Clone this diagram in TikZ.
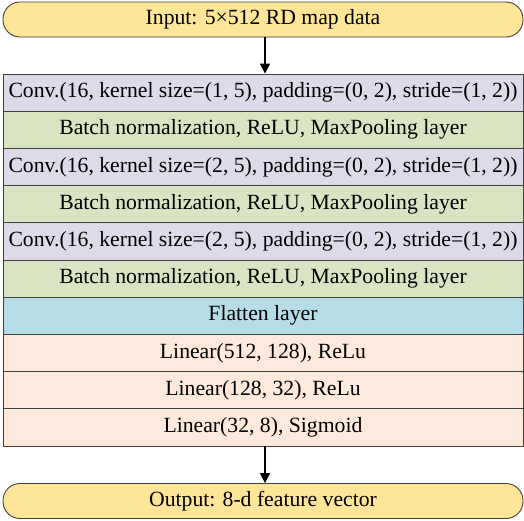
\documentclass[tikz,border=0pt]{standalone}
\usepackage{fontspec}
\setmainfont{Liberation Serif}
\usetikzlibrary{arrows.meta}
\definecolor{termfill}{HTML}{FFE597}
\definecolor{convfill}{HTML}{DFDAE9}
\definecolor{bnfill}{HTML}{D9E4C3}
\definecolor{flatfill}{HTML}{B6DDE7}
\definecolor{linfill}{HTML}{FDEADC}
\definecolor{edge}{HTML}{3F3F3F}
\tikzset{
  term/.style={draw=edge, line width=0.9pt, fill=termfill, rounded corners=17pt,
    minimum width=520pt, minimum height=35pt, inner sep=0pt, font=\fontsize{21.7}{24}\selectfont},
  layer/.style={draw=edge, line width=0.9pt, minimum width=520pt, minimum height=37.2pt,
    inner sep=0pt, font=\fontsize{21.7}{24}\selectfont},
  conv/.style={layer, fill=convfill},
  bn/.style={layer, fill=bnfill},
  flat/.style={layer, fill=flatfill},
  lin/.style={layer, fill=linfill},
  flow/.style={line width=1.6pt, -{Triangle[length=10pt,width=10pt]}}
}
\begin{document}
\begin{tikzpicture}[x=1pt,y=-1pt]
\useasboundingbox (0,0) rectangle (524,520);
\node[term] (in) at (263,19.5) {Input: 5×512 RD map data};
\node[conv] (c1) at (263,92.6) {Conv.(16, kernel size=(1, 5), padding=(0, 2), stride=(1, 2))};
\node[bn] (b1) at (263,129.8) {Batch normalization, ReLU, MaxPooling layer};
\node[conv] (c2) at (263,167.0) {Conv.(16, kernel size=(2, 5), padding=(0, 2), stride=(1, 2))};
\node[bn] (b2) at (263,204.2) {Batch normalization, ReLU, MaxPooling layer};
\node[conv] (c3) at (263,241.4) {Conv.(16, kernel size=(2, 5), padding=(0, 2), stride=(1, 2))};
\node[bn] (b3) at (263,278.6) {Batch normalization, ReLU, MaxPooling layer};
\node[flat] (fl) at (263,315.8) {Flatten layer};
\node[lin] (l1) at (263,353.0) {Linear(512, 128), ReLu};
\node[lin] (l2) at (263,390.2) {Linear(128, 32), ReLu};
\node[lin] (l3) at (263,427.4) {Linear(32, 8), Sigmoid};
\node[term] (out) at (263,501) {Output: 8-d feature vector};
\draw[flow] (in.south) ++(2,0) coordinate (a1) -- (a1 |- c1.north);
\draw[flow] (l3.south) ++(2,0) coordinate (a2) -- (a2 |- out.north);
\end{tikzpicture}
\end{document}
